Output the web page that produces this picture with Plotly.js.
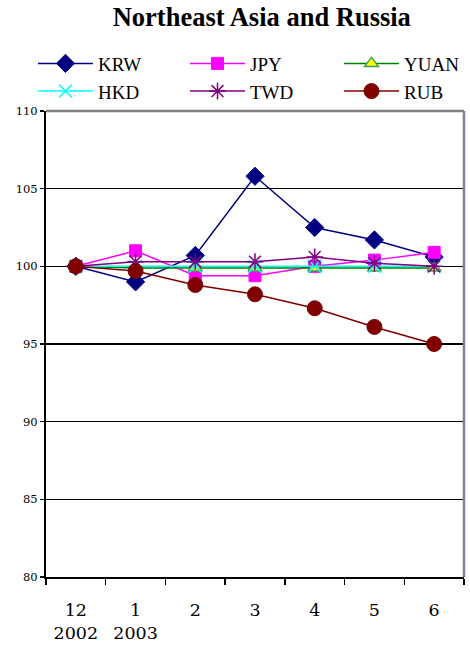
<!DOCTYPE html>
<html>
<head>
<meta charset="utf-8">
<script src="https://cdn.plot.ly/plotly-3.0.1.min.js"></script>
<style>html,body{margin:0;padding:0;background:#fff}#chart{width:470px;height:650px}</style>
</head>
<body>
<div id="chart"></div>
<script>
var categories = ["12<br>2002", "1<br>2003", "2", "3", "4", "5", "6"];
var KRW  = [100, 99.0, 100.7, 105.8, 102.5, 101.7, 100.6];
var JPY  = [100, 101.0, 99.4, 99.4, 100.0, 100.4, 100.9];
var YUAN = [100, 99.9, 99.9, 99.9, 99.9, 99.9, 99.9];
var HKD  = [100, 100.0, 100.0, 100.0, 100.0, 100.0, 100.0];
var TWD  = [100, 100.3, 100.3, 100.3, 100.6, 100.2, 100.0];
var RUB  = [100, 99.7, 98.8, 98.2, 97.3, 96.1, 95.0];
var yTicks = [80, 85, 90, 95, 100, 105, 110];

function tr(name, y, color, symbol, size, legend, mfill, mline) {
  return {
    type: 'scatter', mode: 'lines+markers', name: name, legend: legend,
    x: categories, y: y,
    line: {color: color, width: 1.5},
    marker: {symbol: symbol, size: size, color: mfill || color,
             line: {color: mline || color, width: mline ? 1.5 : 1}}
  };
}
var data = [
  tr('KRW', KRW, '#000080', 'diamond', 14, 'legend'),
  tr('JPY', JPY, '#ff00ff', 'square', 12, 'legend2'),
  tr('YUAN', YUAN, '#008000', 'triangle-up', 12, 'legend3', '#ffff00', '#3c9a5a'),
  tr('HKD', HKD, '#00ffff', 'x-thin-open', 13, 'legend', '#00ffff', '#00ffff'),
  tr('TWD', TWD, '#800080', 'asterisk-open', 14, 'legend2', '#800080', '#800080'),
  tr('RUB', RUB, '#800000', 'circle', 15, 'legend3')
];
var serif = '"Liberation Serif", Times, serif';
var tickSerif = '"DejaVu Serif", serif';
function leg(xpx) {
  return {orientation: 'v', x: (xpx - 46) / 418, xanchor: 'left', y: 1.001, yanchor: 'bottom',
          itemwidth: 55, tracegroupgap: 0, bgcolor: 'rgba(0,0,0,0)', borderwidth: 0,
          font: {family: serif, size: 19, color: '#000'}};
}
var layout = {
  width: 470, height: 650,
  margin: {l: 46, r: 6, t: 111, b: 73, autoexpand: false},
  paper_bgcolor: '#fff', plot_bgcolor: '#fff',
  font: {family: serif, color: '#000'},
  title: {text: '<b>Northeast Asia and Russia</b>', font: {family: serif, size: 26.5, color: '#000'},
          x: 0.557, xanchor: 'center', y: 0.989, yanchor: 'top'},
  showlegend: true,
  legend: leg(33),
  legend2: leg(185),
  legend3: leg(339),
  xaxis: {type: 'category', tickson: 'boundaries', ticks: 'outside', ticklen: 6, tickwidth: 1.5,
          tickcolor: '#000', showline: true, linecolor: '#000', linewidth: 2, showgrid: false,
          ticklabelstandoff: 16,
          tickfont: {family: tickSerif, size: 17.5, color: '#000'}, range: [-0.5, 6.5], fixedrange: true},
  yaxis: {range: [80, 110], tickvals: yTicks, ticks: 'outside', ticklen: 4, tickwidth: 1.5,
          tickcolor: '#000', showline: true, linecolor: '#000', linewidth: 2,
          showgrid: true, gridcolor: '#000', gridwidth: 1.3, zeroline: false,
          tickfont: {family: tickSerif, size: 11.5, color: '#000'}},
  shapes: [
    {type: 'line', xref: 'paper', yref: 'paper', x0: 0, x1: 1, y0: 1, y1: 1, line: {color: '#808080', width: 2.5}},
    {type: 'line', xref: 'paper', yref: 'paper', x0: 1, x1: 1, y0: 0, y1: 1, line: {color: '#8080a0', width: 2.5}}
  ]
};
Plotly.newPlot('chart', data, layout, {displayModeBar: false, staticPlot: true});
</script>
</body>
</html>
